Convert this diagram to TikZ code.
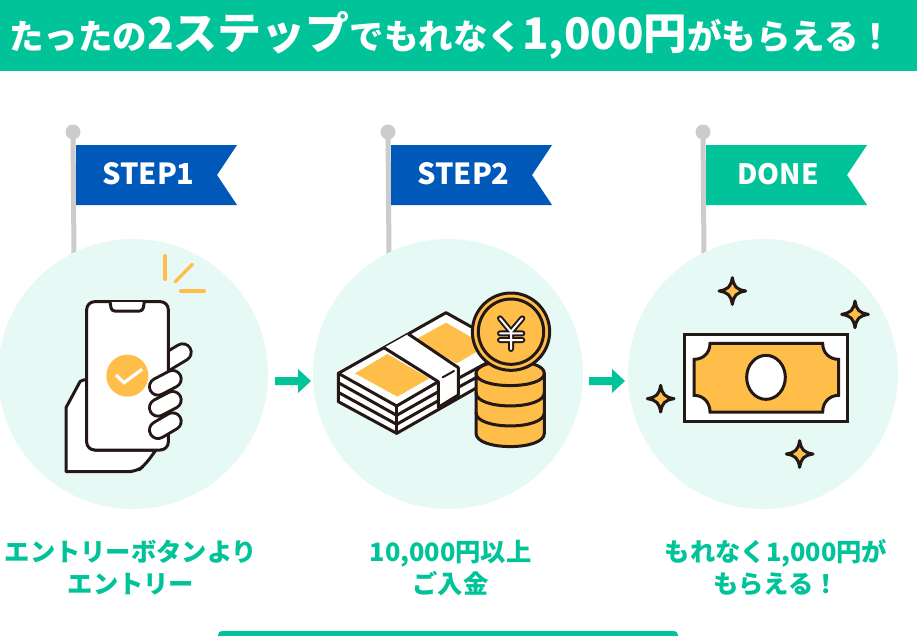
\documentclass[tikz,border=0pt]{standalone}
\usepackage{fontspec}
\newfontfamily\cjk{Noto Sans CJK JP}
\definecolor{brand}{HTML}{00C39A}
\definecolor{softmint}{HTML}{E6F9F4}
\definecolor{flagblue}{HTML}{0058B8}
\definecolor{gold}{HTML}{FFBE4A}
\definecolor{ink}{HTML}{231815}
\definecolor{polegray}{HTML}{CCCCCC}
\tikzset{
  zoomed/.style 2 args={shift={(#1pt,-#2pt)},x=0.33333pt,y=-0.33333pt},
  bgcircle/.style={fill=softmint},
  pole/.style={draw=polegray,line width=5pt},
  polehead/.style={fill=polegray},
  flagtext/.style={text=white,font=\cjk\bfseries\fontsize{29}{29}\selectfont,anchor=center,inner sep=0pt},
  caption/.style={text=brand,font=\cjk\bfseries\fontsize{25.3}{32}\selectfont,align=center,anchor=center,inner sep=0pt},
  outline/.style={draw=ink,line width=3pt,line join=round,line cap=round},
  spark/.style={draw=gold,line width=3.3pt,line cap=round},
  stepArrow/.style={fill=brand},
}
\newcommand{\flagshape}[2]{%
  \draw[pole] (#1-3,132) -- (#1-2,255);
  \fill[polehead] (#1-3,132) circle[radius=7.5];
  \fill[#2] (#1,145) -- (#1+161,145) -- (#1+141,175) -- (#1+161,205) -- (#1,205) -- cycle;
}
\newcommand{\sparkle}[2]{%
  \path[outline,fill=gold,shift={(#1,#2)}] (0,-40) .. controls (5,-12) and (12,-5) .. (40,0)
    .. controls (12,5) and (5,12) .. (0,40) .. controls (-5,12) and (-12,5) .. (-40,0)
    .. controls (-12,-5) and (-5,-12) .. (0,-40) -- cycle;
}
\newcommand{\fingerbar}[2]{%
  \draw[ink,line width=20pt,line cap=round] #1 -- #2;
  \draw[white,line width=14pt,line cap=round] #1 -- #2;
}
\newcommand{\arrowshape}[1]{%
  \fill[stepArrow] (#1,377) -- (#1+23,377) -- (#1+23,369) -- (#1+36,381) -- (#1+23,393) -- (#1+23,385) -- (#1,385) -- cycle;
}
\begin{document}
\begin{tikzpicture}[x=1pt,y=-1pt]
\useasboundingbox (0,0) rectangle (917,635);
\clip (0,0) rectangle (917,635);
\fill[white] (0,0) rectangle (917,635);
% header
\fill[brand] (0,0) rectangle (917,71);
\node[text=white,inner sep=0pt,anchor=center] (title) at (451,35) {\cjk\bfseries\fontsize{34.5}{36}\selectfont たったの{\fontsize{44}{36}\selectfont 2ステップ}でもれなく{\fontsize{43.5}{36}\selectfont 1,000円}がもらえる！};
% flags
\flagshape{76}{flagblue}
\flagshape{391}{flagblue}
\flagshape{706}{brand}
\node[flagtext] (flagA) at (148.5,174) {STEP1};
\node[flagtext] (flagB) at (463.5,174) {STEP2};
\node[flagtext,font=\cjk\bfseries\fontsize{28}{28}\selectfont] (flagC) at (778,174) {DONE};
% circles
\fill[bgcircle] (133,374) circle[radius=135];
\fill[bgcircle] (448,374) circle[radius=135];
\fill[bgcircle] (763,374) circle[radius=135];
% arrows
\arrowshape{275}
\arrowshape{589}
% phone
\begin{scope}[zoomed={0}{230}]
  \draw[spark] (495,77) -- (495,148);
  \draw[spark] (526,155) -- (577,103);
  \draw[spark] (542,183) -- (613,183);
  \fingerbar{(490,402)}{(548,367)}
  \path[outline,fill=white] (198,725) -- (198,533) -- (240,455) [rounded corners=8pt] -- (262,440) -- (290,490) -- (262,555) -- (262,660) [sharp corners] -- (468,660) [rounded corners=8pt] -- (435,705) -- (410,725) [sharp corners] -- cycle;
  \path[outline,fill=white,rounded corners=8pt] (260,215) rectangle (505,660);
  \path[outline,fill=white,rounded corners=3pt] (330,216) -- (335,243) -- (428,243) -- (433,216);
  \fill[gold] (382,437) circle[radius=63];
  \draw[white,line width=3.2pt] (348,435) -- (372,458) -- (426,418);
  \fingerbar{(474,470)}{(518,447)}
  \fingerbar{(474,533)}{(518,510)}
  \fingerbar{(474,600)}{(518,574)}
\end{scope}
% money
\begin{scope}[zoomed={310}{270}]
  \path[outline,fill=white] (85,310) -- (408,128) -- (583,226) -- (583,306) -- (260,490) -- (85,395) -- cycle;
  \fill[gold] (135,310) -- (232,252) -- (358,325) -- (262,380) -- cycle;
  \fill[gold] (318,208) -- (408,158) -- (530,228) -- (440,280) -- cycle;
  \draw[outline] (85,310) -- (260,408) -- (385,335);
  \draw[outline] (85,338) -- (260,436) -- (385,365);
  \draw[outline] (85,367) -- (260,463) -- (385,392);
  \draw[outline] (260,408) -- (260,490);
  \draw[outline] (445,325) -- (583,250);
  \draw[outline] (445,352) -- (583,276);
  \path[fill=white] (222,233) -- (295,192) -- (445,293) -- (445,375) -- (385,412) -- (385,335) -- cycle;
  \draw[outline] (222,233) -- (385,335) -- (385,412);
  \draw[outline] (295,192) -- (445,293) -- (445,375);
  \draw[outline] (385,412) -- (445,375);
  \draw[outline,line width=2pt] (398,322) -- (432,303);
  % coin stack
  \path[outline,fill=gold] (498,310) .. controls (498,261) and (703,261) .. (703,310) -- (703,490) .. controls (703,543) and (498,543) .. (498,490) -- cycle;
  \draw[outline] (498,310) .. controls (498,359) and (703,359) .. (703,310);
  \draw[outline] (498,368) .. controls (498,421) and (703,421) .. (703,368);
  \draw[outline] (498,428) .. controls (498,481) and (703,481) .. (703,428);
  % big coin
  \path[outline,fill=gold] (603,185) circle[radius=116];
  \draw[outline] (603,185) circle[radius=98];
  \draw[ink,line width=6pt,line cap=round,line join=round] (570,145) -- (603,185) -- (637,145) (603,185) -- (603,237) (570,190) -- (637,190) (570,210) -- (637,210);
  \draw[white,line width=2pt,line cap=round,line join=round] (570,145) -- (603,185) -- (637,145) (603,185) -- (603,237) (570,190) -- (637,190) (570,210) -- (637,210);
\end{scope}
% bill
\begin{scope}[zoomed={630}{260}]
  \path[outline,fill=white,line cap=butt,line join=miter] (163,222) rectangle (653,484);
  \path[outline,fill=gold,line join=miter] (240,250) -- (578,250) .. controls (578,280) and (600,298) .. (626,298) -- (626,406) .. controls (600,406) and (578,425) .. (578,456) -- (240,456) .. controls (240,425) and (218,406) .. (192,406) -- (192,298) .. controls (218,298) and (240,280) .. (240,250) -- cycle;
  \path[outline,fill=white] (408,352) ellipse[x radius=58,y radius=66];
  \sparkle{307}{93}
  \sparkle{675}{163}
  \sparkle{92}{416}
  \sparkle{509}{582}
\end{scope}
% captions
\node[caption] (capA) at (131,567.5) {\cjk\bfseries エントリーボタンより\\エントリー};
\node[caption] (capB) at (450.5,567.5) {\cjk\bfseries 10,000円以上\\ご入金};
\node[caption] (capC) at (776,567.5) {\cjk\bfseries もれなく1,000円が\\もらえる！};
% bottom button
\fill[brand,rounded corners=4pt] (218,631) -- (678,631) -- (678,645) -- (218,645) -- cycle;
\end{tikzpicture}
\end{document}
